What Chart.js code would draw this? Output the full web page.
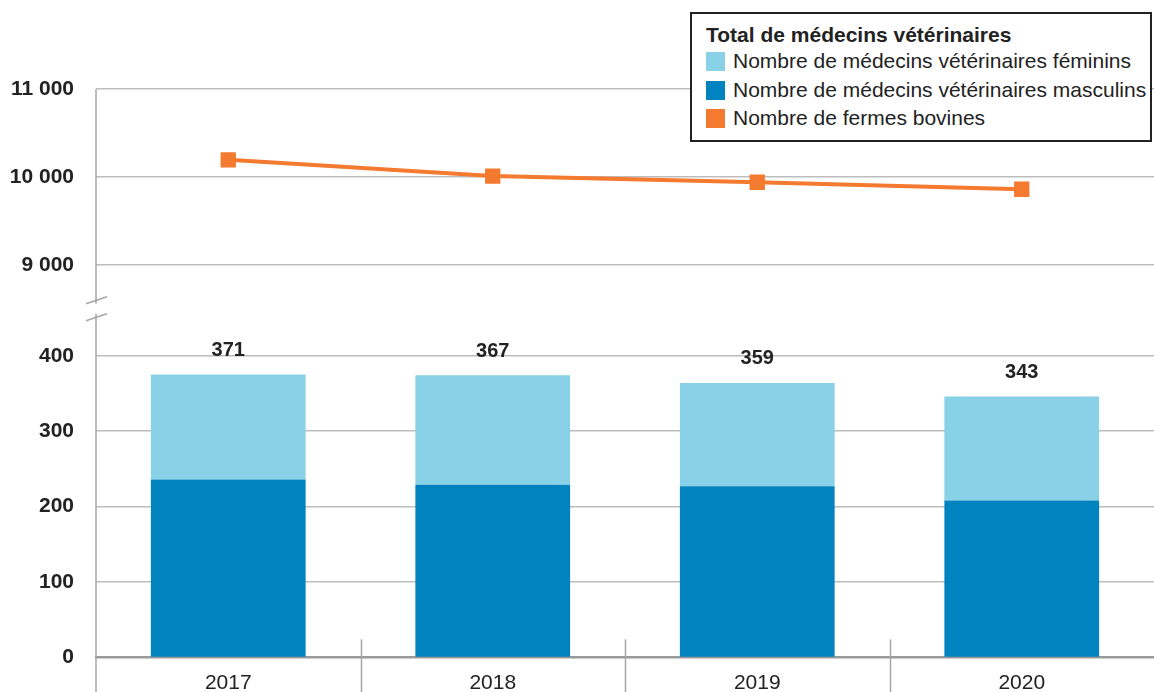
<!DOCTYPE html>
<html>
<head>
<meta charset="utf-8">
<script src="https://cdn.jsdelivr.net/npm/chart.js@4"></script>
<style>
  html, body { margin: 0; padding: 0; background: #fff; }
  #wrap { position: relative; width: 1154px; height: 692px; }
  #legend {
    position: absolute; left: 690px; top: 12px; width: 458px; height: 126px;
    border: 2px solid #222; background: #fff;
    font-family: "Liberation Sans", Arial, sans-serif; color: #222;
  }
  #legend .title { position: absolute; left: 14px; top: 9px; font-weight: bold; font-size: 21px; }
  #legend .item { position: absolute; left: 14px; font-size: 21px; line-height: 24px; white-space: nowrap; }
  #legend .sw { display: inline-block; width: 19px; height: 19px; vertical-align: -3px; margin-right: 8px; }
</style>
</head>
<body>
<div id="wrap">
  <canvas id="chart" width="1154" height="692"></canvas>
  <div id="legend">
    <div class="title">Total de médecins vétérinaires</div>
    <div class="item" style="top:35px"><span class="sw" style="background:#88d1e6"></span>Nombre de médecins vétérinaires féminins</div>
    <div class="item" style="top:64px"><span class="sw" style="background:#0083be"></span>Nombre de médecins vétérinaires masculins</div>
    <div class="item" style="top:92px"><span class="sw" style="background:#f47a30"></span>Nombre de fermes bovines</div>
  </div>
</div>
<script>
const years = ["2017", "2018", "2019", "2020"];
const maleVets = [236, 229, 227, 208];
const femaleVets = [139, 145, 137, 138];
const totalLabels = [371, 367, 359, 343];
const cattleFarms = [10195, 10010, 9940, 9860];
const farmTicks = [9000, 10000, 11000];
const vetTicks = [0, 100, 200, 300, 400];

const FONT = "'Liberation Sans', Arial, sans-serif";
const GRID = "#bdbdbd";
const AXIS = "#a6a6a6";

function fmt(v) {
    return String(v).replace(/\B(?=(\d{3})+(?!\d))/g, " ");
}

// totals above bars, category separators, broken left axis
const extras = {
    id: "extras",
    afterDatasetsDraw(chart) {
        const ctx = chart.ctx;
        const xs = chart.scales.x;
        const yb = chart.scales.yBar;
        ctx.save();
        ctx.fillStyle = "#222";
        ctx.font = "bold 20px " + FONT;
        ctx.textAlign = "center";
        ctx.textBaseline = "bottom";
        years.forEach((y, i) => {
            const top = yb.getPixelForValue(maleVets[i] + femaleVets[i]);
            ctx.fillText(String(totalLabels[i]), xs.getPixelForValue(i), top - 14);
        });
        ctx.restore();
    },
    afterDraw(chart) {
        const ctx = chart.ctx;
        const xs = chart.scales.x;
        const area = chart.chartArea;
        const yl = chart.scales.yLine;
        const left = area.left;
        const brk = yl.bottom;
        ctx.save();
        ctx.strokeStyle = AXIS;
        ctx.lineWidth = 1.5;
        // separators between categories
        for (let i = 1; i < years.length; i++) {
            const x = Math.round((xs.getPixelForValue(i - 1) + xs.getPixelForValue(i)) / 2) + 0.5;
            ctx.beginPath();
            ctx.moveTo(x, area.bottom - 18);
            ctx.lineTo(x, chart.height);
            ctx.stroke();
        }
        // left axis with break
        ctx.beginPath();
        ctx.moveTo(left, area.top);
        ctx.lineTo(left, brk - 6);
        ctx.moveTo(left, brk + 4);
        ctx.lineTo(left, chart.height);
        ctx.stroke();
        ctx.beginPath();
        ctx.moveTo(left - 10, brk - 6);
        ctx.lineTo(left + 11, brk - 13);
        ctx.moveTo(left - 10, brk + 11);
        ctx.lineTo(left + 11, brk + 4);
        ctx.stroke();
        ctx.restore();
    }
};

new Chart(document.getElementById("chart"), {
    type: "bar",
    data: {
        labels: years,
        datasets: [
            {
                type: "line",
                label: "Nombre de fermes bovines",
                data: cattleFarms,
                yAxisID: "yLine",
                borderColor: "#f47a30",
                backgroundColor: "#f47a30",
                borderWidth: 4,
                pointStyle: "rect",
                pointRadius: 8,
                pointHoverRadius: 8,
                tension: 0,
                clip: false,
                order: 0
            },
            {
                label: "Nombre de médecins vétérinaires masculins",
                data: maleVets,
                yAxisID: "yBar",
                backgroundColor: "#0083be",
                barPercentage: 0.585,
                categoryPercentage: 1,
                order: 1
            },
            {
                label: "Nombre de médecins vétérinaires féminins",
                data: femaleVets,
                yAxisID: "yBar",
                backgroundColor: "#88d1e6",
                barPercentage: 0.585,
                categoryPercentage: 1,
                order: 1
            }
        ]
    },
    options: {
        responsive: false,
        animation: false,
        layout: { autoPadding: false, padding: { top: 89, left: 10, right: 0, bottom: 0 } },
        plugins: {
            legend: { display: false },
            tooltip: { enabled: false }
        },
        scales: {
            x: {
                stacked: true,
                afterFit: s => { s.height = 34; s.paddingLeft = 0; s.paddingRight = 0; },
                grid: { display: false, drawTicks: false },
                border: { display: true, color: "#9a9a9a", width: 2.5 },
                ticks: { color: "#222", font: { family: FONT, size: 21 }, padding: 13 }
            },
            yBar: {
                type: "linear",
                position: "left",
                stack: "v",
                stackWeight: 348,
                stacked: true,
                min: 0,
                max: 461,
                afterBuildTicks: s => { s.ticks = vetTicks.map(v => ({ value: v })); },
                afterFit: s => { s.width = 86; },
                grid: { color: c => c.tick && c.tick.value === 0 ? "rgba(0,0,0,0)" : GRID, lineWidth: 1.5, drawTicks: false },
                border: { display: false },
                ticks: { color: "#222", font: { family: FONT, size: 21, weight: "bold" }, padding: 22, callback: v => fmt(v) }
            },
            yLine: {
                type: "linear",
                position: "left",
                stack: "v",
                stackWeight: 221,
                min: 8490,
                max: 11000,
                afterBuildTicks: s => { s.ticks = farmTicks.map(v => ({ value: v })); },
                afterFit: s => { s.width = 86; },
                grid: { color: GRID, lineWidth: 1.5, drawTicks: false },
                border: { display: false },
                ticks: { color: "#222", font: { family: FONT, size: 21, weight: "bold" }, padding: 22, callback: v => fmt(v) }
            }
        }
    },
    plugins: [extras]
});
</script>
</body>
</html>
